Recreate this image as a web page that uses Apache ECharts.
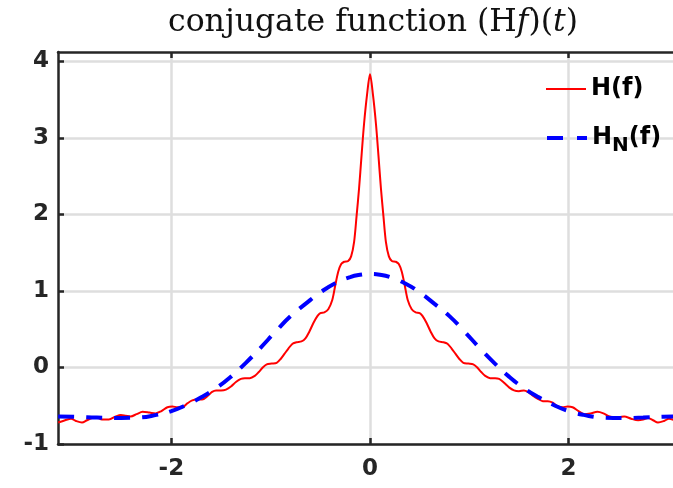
<!DOCTYPE html>
<html>
<head>
<meta charset="utf-8">
<script src="https://cdn.jsdelivr.net/npm/echarts@6/dist/echarts.min.js"></script>
<style>
html,body{margin:0;padding:0;background:#fff;overflow:hidden;}
#c{width:673px;height:488px;}
</style>
</head>
<body>
<div id="c"></div>
<script>
// ---- data ----
const redT = [-3.14,-3.07,-3.01,-2.96,-2.90,-2.85,-2.80,-2.75,-2.70,-2.63,-2.56,-2.51,-2.46,-2.41,-2.35,-2.29,-2.22,-2.16,-2.10,-2.04,-1.99,-1.94,-1.89,-1.84,-1.79,-1.74,-1.69,-1.64,-1.59,-1.55,-1.50,-1.45,-1.40,-1.35,-1.30,-1.26,-1.21,-1.16,-1.12,-1.08,-1.04,-0.99,-0.94,-0.90,-0.86,-0.82,-0.78,-0.74,-0.69,-0.65,-0.61,-0.57,-0.53,-0.50,-0.46,-0.42,-0.38,-0.35,-0.32,-0.29,-0.26,-0.22,-0.19,-0.16,-0.135,-0.11,-0.085,-0.06,-0.03,0,
0.03,0.06,0.085,0.11,0.135,0.16,0.19,0.22,0.26,0.29,0.32,0.35,0.38,0.42,0.46,0.50,0.53,0.57,0.61,0.65,0.69,0.74,0.78,0.82,0.86,0.90,0.94,0.99,1.04,1.08,1.12,1.16,1.21,1.26,1.30,1.35,1.40,1.45,1.50,1.55,1.59,1.64,1.69,1.74,1.79,1.84,1.89,1.94,1.99,2.04,2.10,2.16,2.22,2.29,2.35,2.41,2.46,2.51,2.56,2.63,2.70,2.75,2.80,2.85,2.90,2.96,3.01,3.07,3.14];
const redH = [-0.72,-0.69,-0.67,-0.70,-0.72,-0.69,-0.66,-0.65,-0.68,-0.68,-0.64,-0.62,-0.63,-0.64,-0.61,-0.58,-0.59,-0.60,-0.57,-0.52,-0.51,-0.52,-0.52,-0.47,-0.43,-0.42,-0.42,-0.38,-0.32,-0.30,-0.30,-0.29,-0.25,-0.19,-0.15,-0.14,-0.14,-0.11,-0.06,0.00,0.04,0.05,0.06,0.11,0.18,0.25,0.31,0.33,0.34,0.38,0.47,0.58,0.67,0.71,0.72,0.76,0.88,1.07,1.25,1.35,1.38,1.39,1.45,1.64,1.98,2.34,2.77,3.18,3.56,3.83,
3.56,3.18,2.77,2.34,1.98,1.64,1.45,1.39,1.38,1.35,1.25,1.07,0.88,0.76,0.72,0.71,0.67,0.58,0.47,0.38,0.34,0.33,0.31,0.25,0.18,0.11,0.06,0.05,0.04,0.00,-0.06,-0.11,-0.14,-0.14,-0.15,-0.20,-0.26,-0.30,-0.31,-0.30,-0.32,-0.37,-0.41,-0.44,-0.44,-0.46,-0.51,-0.52,-0.51,-0.52,-0.57,-0.61,-0.60,-0.58,-0.60,-0.64,-0.65,-0.65,-0.64,-0.67,-0.69,-0.68,-0.66,-0.69,-0.72,-0.70,-0.67,-0.69,-0.72];
const blueT = [-3.14,-2.95,-2.75,-2.55,-2.35,-2.15,-2.0,-1.85,-1.7,-1.55,-1.4,-1.25,-1.1,-0.95,-0.8,-0.65,-0.5,-0.35,-0.2,-0.1,0,0.1,0.2,0.35,0.5,0.65,0.8,0.95,1.1,1.25,1.4,1.55,1.7,1.85,2.0,2.15,2.35,2.55,2.75,2.95,3.14];
const blueH = [-0.64,-0.645,-0.655,-0.66,-0.655,-0.62,-0.57,-0.49,-0.39,-0.27,-0.12,0.06,0.26,0.47,0.67,0.83,0.98,1.10,1.18,1.21,1.22,1.21,1.18,1.10,0.98,0.83,0.67,0.47,0.26,0.06,-0.12,-0.27,-0.39,-0.49,-0.57,-0.62,-0.655,-0.66,-0.655,-0.645,-0.64];
const xTicks = [-2, 0, 2];
const yTicks = [-1, 0, 1, 2, 3, 4];
const seriesNames = ['H(f)', 'H_N(f)'];

const red = redT.map((t, i) => [t, redH[i]]);
const blue = blueT.map((t, i) => [t, blueH[i]]);

const AX = '#262626';
const SANS = 'DejaVu Sans';
const labelFont = {fontFamily: SANS, fontWeight: 'bold', fontSize: 23, color: AX};
function xa(pos, main) {
  return {
    type: 'value', min: -Math.PI, max: Math.PI, position: pos, gridIndex: 0,
    axisLine: {show: true, onZero: false, lineStyle: {color: AX, width: 2.5}},
    axisTick: {show: true, inside: true, length: 6, customValues: xTicks, lineStyle: {color: AX, width: 2.5}},
    axisLabel: main ? Object.assign({show: true, customValues: xTicks, margin: 14}, labelFont) : {show: false},
    splitLine: {show: main, lineStyle: {color: '#dedede', width: 2.5}}
  };
}
function ya(pos, main) {
  return {
    type: 'value', min: -1, max: 4.12, position: pos, gridIndex: 0,
    axisLine: {show: true, onZero: false, lineStyle: {color: AX, width: 2.5}},
    axisTick: {show: true, inside: true, length: 6, customValues: yTicks, lineStyle: {color: AX, width: 2.5}},
    axisLabel: main ? Object.assign({show: true, customValues: yTicks, margin: 9}, labelFont) : {show: false},
    splitLine: {show: main, lineStyle: {color: '#dedede', width: 2.5}}
  };
}

const chart = echarts.init(document.getElementById('c'), null, {renderer: 'canvas'});
chart.setOption({
  animation: false,
  backgroundColor: '#fff',
  title: {
    text: '{r|conjugate function (H}{i|f}{r|)(}{i|t}{r|)}',
    left: 368, top: 2, textAlign: 'center',
    textStyle: {
      rich: {
        r: {fontFamily: 'DejaVu Serif', fontWeight: 'normal', fontSize: 31.5, color: '#111'},
        i: {fontFamily: 'DejaVu Serif', fontWeight: 'normal', fontStyle: 'italic', fontSize: 31.5, color: '#111'}
      }
    }
  },
  grid: {left: 58, width: 624, top: 52, bottom: 44, containLabel: false, outerBoundsMode: 'none'},
  xAxis: [xa('bottom', true), xa('top', false)],
  yAxis: [ya('left', true), ya('right', false)],
  legend: [
    {data: [seriesNames[0]], left: 545, top: 77, padding: 0, itemWidth: 40, itemHeight: 24,
     itemStyle: {opacity: 0}, lineStyle: {width: 2, type: 'solid'},
     textStyle: {fontFamily: SANS, fontWeight: 'bold', fontSize: 24, color: '#000'}},
    {data: [seriesNames[1]], left: 545, top: 126, padding: 0, itemWidth: 40, itemHeight: 24,
     itemStyle: {opacity: 0}, lineStyle: {width: 4, type: [16, 14]},
     formatter: () => '{b|H}{s|N}{b|(f)}',
     textStyle: {rich: {
       b: {fontFamily: SANS, fontWeight: 'bold', fontSize: 24, color: '#000'},
       s: {fontFamily: SANS, fontWeight: 'bold', fontSize: 20, color: '#000', padding: [16, 0, 0, 0]}
     }}}
  ],
  series: [
    {name: seriesNames[0], type: 'line', xAxisIndex: 0, yAxisIndex: 0, data: red, showSymbol: false, symbol: 'none',
     smooth: 0.3, lineStyle: {color: '#ff0000', width: 2}, itemStyle: {color: '#ff0000'}},
    {name: seriesNames[1], type: 'line', xAxisIndex: 0, yAxisIndex: 0, data: blue, showSymbol: false, symbol: 'none',
     smooth: 0.5, lineStyle: {color: '#0000ff', width: 4, type: [16, 12]}, itemStyle: {color: '#0000ff'}}
  ]
});
</script>
</body>
</html>
